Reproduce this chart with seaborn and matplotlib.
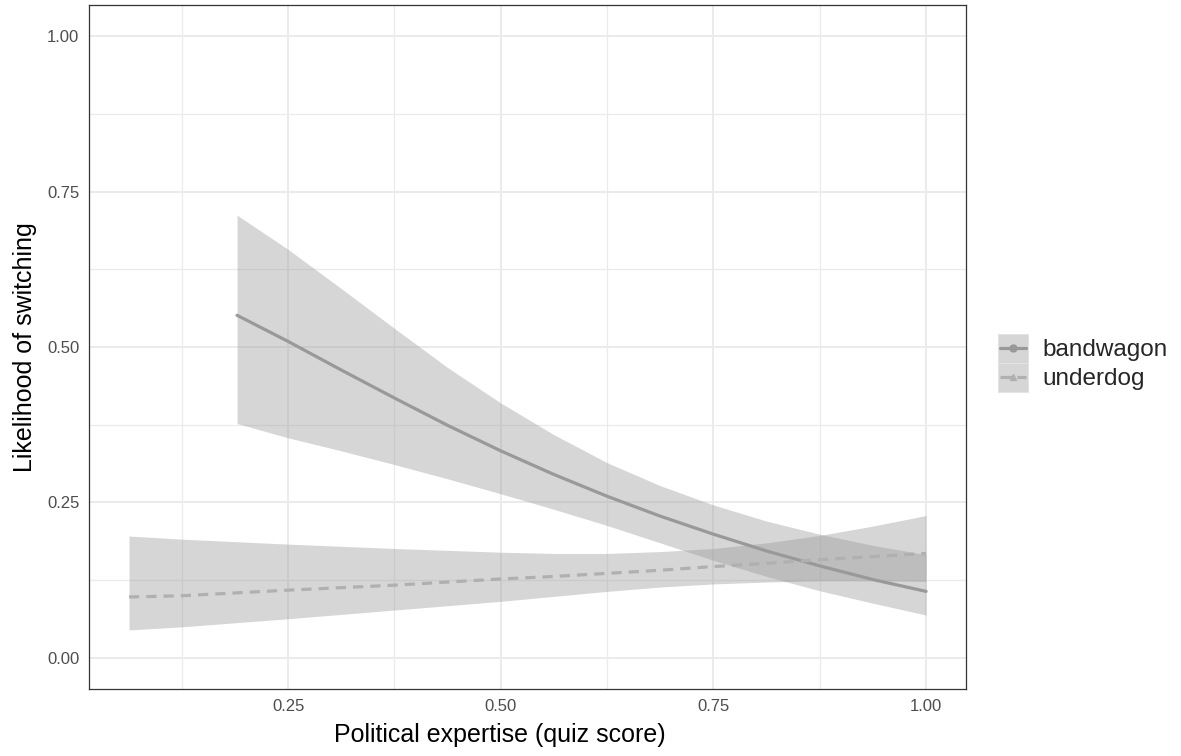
import pandas as pd
import seaborn as sns
import matplotlib.pyplot as plt
from matplotlib.lines import Line2D
from matplotlib.patches import Rectangle

# values
bw_x = [0.19, 0.25, 0.3125, 0.375, 0.4375, 0.5, 0.5625, 0.625, 0.6875, 0.75, 0.8125, 0.875, 0.9375, 1.0]
bw_fit = [0.551, 0.509, 0.463, 0.418, 0.374, 0.333, 0.295, 0.260, 0.228, 0.199, 0.172, 0.148, 0.126, 0.107]
bw_hi = [0.712, 0.657, 0.594, 0.530, 0.467, 0.410, 0.359, 0.314, 0.277, 0.246, 0.220, 0.199, 0.181, 0.166]
bw_lo = [0.377, 0.354, 0.333, 0.311, 0.288, 0.264, 0.239, 0.213, 0.185, 0.157, 0.131, 0.108, 0.088, 0.069]

ud_x = [0.063, 0.125, 0.25, 0.375, 0.5, 0.5625, 0.625, 0.6875, 0.75, 0.8125, 0.875, 0.9375, 1.0]
ud_fit = [0.098, 0.100, 0.109, 0.117, 0.127, 0.131, 0.136, 0.141, 0.147, 0.152, 0.158, 0.163, 0.168]
ud_hi = [0.196, 0.191, 0.183, 0.176, 0.170, 0.168, 0.168, 0.171, 0.176, 0.185, 0.197, 0.212, 0.229]
ud_lo = [0.045, 0.050, 0.063, 0.077, 0.091, 0.099, 0.107, 0.114, 0.119, 0.122, 0.124, 0.124, 0.123]

groups = ['bandwagon', 'underdog']
line_cols = {'bandwagon': '#999999', 'underdog': '#b0b0b0'}

df = pd.concat([
    pd.DataFrame({'x': bw_x, 'fit': bw_fit, 'lo': bw_lo, 'hi': bw_hi, 'type': 'bandwagon'}),
    pd.DataFrame({'x': ud_x, 'fit': ud_fit, 'lo': ud_lo, 'hi': ud_hi, 'type': 'underdog'}),
])


class KeyHandler:
    # grey ribbon square with the line and point drawn on top, like a ggplot key
    def legend_artist(self, legend, orig_handle, fontsize, handlebox):
        x0, y0 = -handlebox.xdescent, -handlebox.ydescent
        w, h = handlebox.width, handlebox.height
        tr = handlebox.get_transform()
        rect = Rectangle((x0, y0), w, h, facecolor='#d6d6d6', edgecolor='#e3e3e3',
                         lw=0.8, transform=tr)
        handlebox.add_artist(rect)
        ln = Line2D([x0 + w * 0.08, x0 + w * 0.92], [y0 + h / 2] * 2,
                    color=orig_handle.get_color(), lw=orig_handle.get_linewidth(),
                    ls=orig_handle.get_linestyle(), transform=tr)
        handlebox.add_artist(ln)
        mk = Line2D([x0 + w / 2], [y0 + h / 2], marker=orig_handle.get_marker(),
                    markersize=orig_handle.get_markersize(), color=orig_handle.get_color(),
                    lw=0, transform=tr)
        handlebox.add_artist(mk)
        return rect


sns.set_style('white')
plt.rcParams['font.family'] = ['Liberation Sans', 'DejaVu Sans']

fig = plt.figure(figsize=(11.81, 7.56), dpi=100)
ax = fig.add_axes([0.0754, 0.0886, 0.7426, 0.9048])

for g in groups:
    d = df[df['type'] == g]
    ax.fill_between(d['x'], d['lo'], d['hi'], color='#999999', alpha=0.4, lw=0, zorder=2)

sns.lineplot(data=df, x='x', y='fit', hue='type', style='type', palette=line_cols,
             dashes={'bandwagon': '', 'underdog': (3.2, 2.2)}, linewidth=2.3,
             legend=False, ax=ax, zorder=3)

ax.set_xlim(0.016, 1.047)
ax.set_ylim(-0.05, 1.05)
ax.set_xticks([0.25, 0.5, 0.75, 1.0])
ax.set_xticklabels(['0.25', '0.50', '0.75', '1.00'])
ax.set_yticks([0, 0.25, 0.5, 0.75, 1.0])
ax.set_yticklabels(['0.00', '0.25', '0.50', '0.75', '1.00'])
ax.set_xticks([0.125, 0.375, 0.625, 0.875], minor=True)
ax.set_yticks([0.125, 0.375, 0.625, 0.875], minor=True)
ax.grid(which='major', color='#ebebeb', lw=1.4, zorder=0)
ax.grid(which='minor', color='#ebebeb', lw=0.9, zorder=0)
ax.set_axisbelow(True)
ax.tick_params(which='major', length=4, width=0.8, color='#333333', labelsize=12,
               labelcolor='#4d4d4d', pad=3)
ax.tick_params(which='minor', length=0)
for s in ax.spines.values():
    s.set_color('#333333')
    s.set_linewidth(0.9)

ax.set_xlabel('Political expertise (quiz score)', fontsize=18, color='black')
ax.xaxis.set_label_coords(0.4687, -0.049)
ax.set_ylabel('Likelihood of switching', fontsize=18, color='black', labelpad=7)

keys = [Line2D([], [], color='#999999', lw=2.3, marker='o', markersize=5),
        Line2D([], [], color='#b0b0b0', lw=2.3, ls=(0, (1.6, 1.2)), marker='^', markersize=5)]
fig.legend(keys, groups, loc='center left', bbox_to_anchor=(0.845, 0.52),
           frameon=False, fontsize=17.5, handlelength=1.24, handleheight=1.45,
           labelspacing=0.0, handletextpad=0.6, borderpad=0, borderaxespad=0,
           handler_map={Line2D: KeyHandler()})

fig.savefig('out.png', dpi=100)
